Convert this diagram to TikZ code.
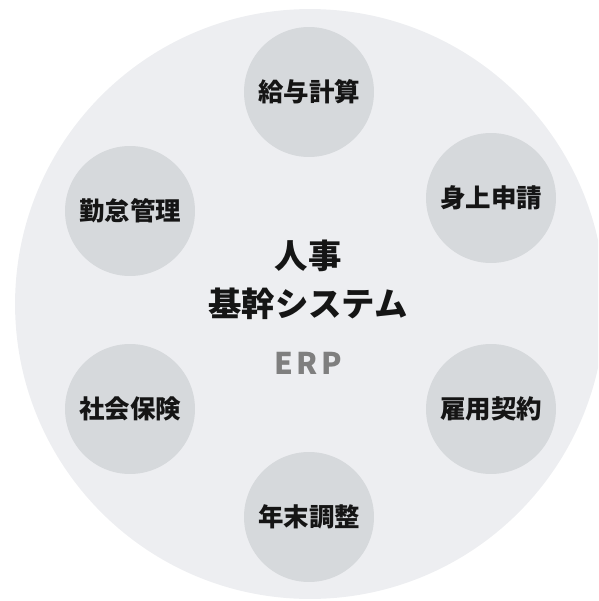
\documentclass[tikz,border=0pt]{standalone}
\usepackage{fontspec}
\newfontfamily\cjk{Noto Sans CJK JP}
\newfontfamily\erpfont[LetterSpace=12]{Noto Sans CJK JP}
\definecolor{bgcircle}{HTML}{EDEEF1}
\definecolor{subcircle}{HTML}{D6D9DC}
\definecolor{textblack}{HTML}{151515}
\definecolor{erpgray}{HTML}{7F7F7F}
\usetikzlibrary{positioning}

\begin{document}
\begin{tikzpicture}[x=0.02cm, y=-0.02cm, sub node/.style={circle,fill=subcircle,minimum size=2.6cm,inner sep=0pt,text=textblack,font=\cjk\bfseries\fontsize{14.5}{16}\selectfont}]%
\useasboundingbox (0,0) rectangle (598,601);
\clip (0,0) rectangle (598,601);
\fill[bgcircle] (310,304) circle (5.9cm);
\begin{scope}
\node[sub node] (kyuyo) at (309,92) {給与計算};
\node[sub node] (kintai) at (130,211) {勤怠管理};
\node[sub node] (shinjo) at (491,198) {身上申請};
\node[sub node] (shakai) at (130,409) {社会保険};
\node[sub node] (koyo) at (491,409) {雇用契約};
\node[sub node] (nenmatsu) at (309,517) {年末調整};
\end{scope}
\begin{scope}[every node/.style={text=textblack,font=\cjk\bfseries\fontsize{19}{23}\selectfont}]
\node[align=center] (title) at (308,280) {人事\\[4.5pt]基幹システム};
\end{scope}
\node[text=erpgray,font=\erpfont\bfseries\fontsize{17}{20}\selectfont] (erp) at (308,363) {ERP};
\end{tikzpicture}
\end{document}
